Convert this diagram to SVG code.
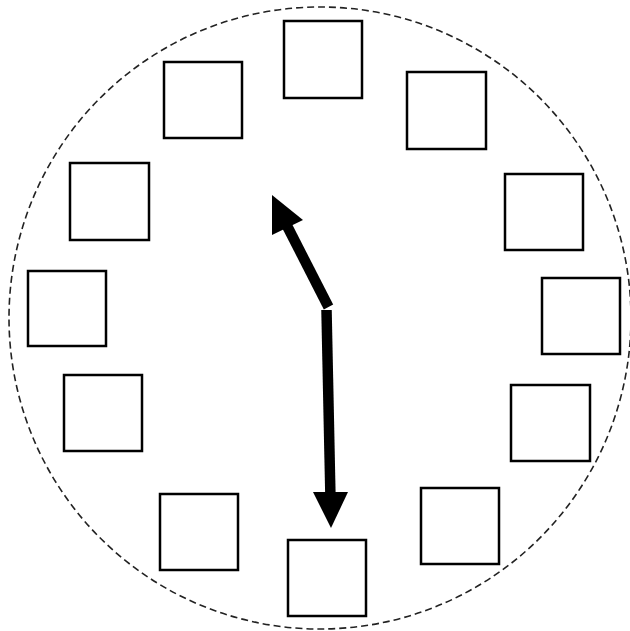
<svg xmlns="http://www.w3.org/2000/svg" width="630" height="631" viewBox="0 0 630 631">
<style>
.box{fill:#fff;stroke:#000;stroke-width:2.5}
.dial{fill:none;stroke:#222;stroke-width:1.6;stroke-dasharray:7 4}
.hand{stroke:#000;stroke-width:10.5;fill:none}
.head{fill:#000}
</style>
<rect width="630" height="631" fill="#fff"/>
<circle class="dial" cx="320" cy="318" r="311"/>
<g id="box1"><rect class="box" x="284" y="21" width="78" height="77"/></g>
<g id="box2"><rect class="box" x="407" y="72" width="79" height="77"/></g>
<g id="box3"><rect class="box" x="505" y="174" width="78" height="76"/></g>
<g id="box4"><rect class="box" x="542" y="278" width="78" height="76"/></g>
<g id="box5"><rect class="box" x="511" y="385" width="79" height="76"/></g>
<g id="box6"><rect class="box" x="421" y="488" width="78" height="76"/></g>
<g id="box7"><rect class="box" x="288" y="540" width="78" height="76"/></g>
<g id="box8"><rect class="box" x="160" y="494" width="78" height="76"/></g>
<g id="box9"><rect class="box" x="64" y="375" width="78" height="76"/></g>
<g id="box10"><rect class="box" x="28" y="271" width="78" height="75"/></g>
<g id="box11"><rect class="box" x="70" y="163" width="79" height="77"/></g>
<g id="box12"><rect class="box" x="164" y="62" width="78" height="76"/></g>
<g id="connectors">
<line class="hand" x1="328.5" y1="307" x2="283" y2="218"/>
<polygon class="head" points="272,195 303,220 272,235"/>
<line class="hand" x1="326.5" y1="310" x2="330.5" y2="500"/>
<polygon class="head" points="313,492 348,492 331,528"/>
</g>
</svg>
